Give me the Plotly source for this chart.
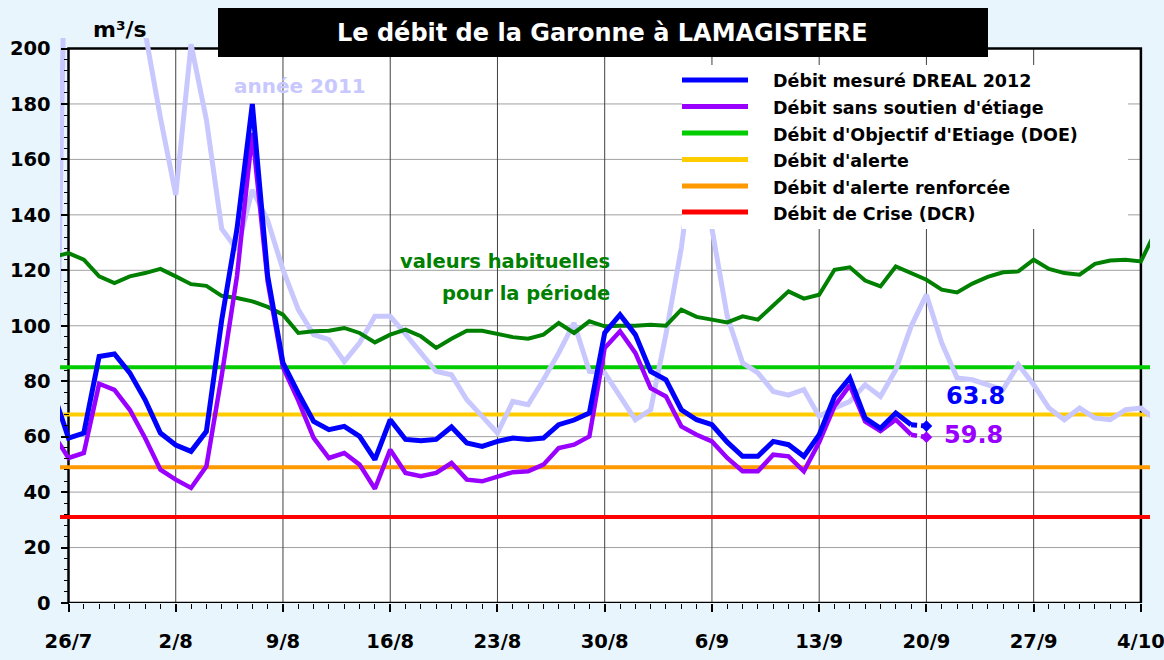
import pandas as pd
import plotly.graph_objects as go

# ---------------- data (daily, first point = 25/7) ----------------
START = "2012-07-25"
DAY0 = "2012-07-26"

# Débit mesuré DREAL 2012 (25/7 -> 20/9)
blue = [76, 59.5, 61.3, 88.9, 89.8, 83, 73.3, 61.3, 57, 54.7,
        61.9, 102, 135, 180, 118, 86.6, 75.7, 65.5, 62.5, 63.7,
        60.1, 51.7, 66.1, 59, 58.5, 59, 63.5, 57.7, 56.5, 58.3,
        59.5, 59, 59.5, 64.3, 66, 68.5, 97.4, 104, 96.8, 83.5,
        80.5, 69.7, 66.1, 64.3, 58, 52.9, 52.9, 58.3, 57.1, 52.9,
        60.7, 74.5, 81.2, 66.7, 63, 68.5, 64.3, 63.8]

# Débit sans soutien d'étiage (25/7 -> 20/9)
purple = [61, 52.3, 54.1, 79.1, 76.9, 69.7, 59.5, 48.1, 44.5, 41.5,
          49.3, 82, 118, 169.5, 116, 85, 73, 59.6, 52.3, 54.1,
          49.9, 41.2, 55.3, 46.9, 45.7, 46.9, 50.5, 44.5, 43.9, 45.7,
          47.2, 47.5, 49.9, 55.9, 57.1, 60.1, 92, 98, 90.2, 77.5,
          74.5, 63.7, 60.7, 58.3, 52.3, 47.5, 47.5, 53.5, 52.9, 47.5,
          58, 71, 78.5, 65.5, 62, 66.1, 60.7, 59.8]

# année 2011 (25/7 -> 5/10)
annee2011 = [0, 315, 290, 265, 245, 225, 206, 175, 147.2, 201.5,
             174.3, 135, 127.4, 149, 138, 120.2, 105.8, 96.8, 95, 87.1,
             93.8, 103.4, 103.4, 97, 90.2, 83.5, 82.3, 73.3, 67.3, 61.3,
             72.7, 71.5, 80.5, 90.2, 101, 83.5, 83, 74.5, 66.1, 69.7,
             97, 128, 170, 135, 103.4, 86.6, 83, 76.3, 75, 77,
             67.3, 70.3, 72.7, 78.7, 74.5, 84.1, 99.8, 111.2, 93.8, 81.2,
             80.5, 78.7, 77, 86, 78.7, 70.3, 66.1, 70.3, 66.7, 66.1,
             69.7, 70.3, 66]

# valeurs habituelles pour la période (25/7 -> 5/10)
habituelles = [124.8, 126.2, 123.8, 117.8, 115.4, 117.8, 119, 120.5, 117.8, 115,
               114.4, 110.8, 110, 108.8, 106.8, 104, 97.4, 98, 98.2, 99.2,
               97.4, 94, 96.8, 98.6, 96.2, 92, 95.3, 98.2, 98.2, 97,
               95.9, 95.3, 96.8, 101, 97.4, 101.6, 99.8, 100, 100, 100.4,
               100, 105.8, 103.2, 102.2, 101.2, 103.4, 102.2, 107.3, 112.4, 109.8,
               111.2, 120.2, 121.1, 116.3, 114.2, 121.4, 119, 116.6, 113, 112,
               115.2, 117.6, 119.3, 119.6, 123.8, 120.5, 119, 118.4, 122.3, 123.5,
               123.8, 123.2, 134.5]

DOE = 85
ALERTE = 68
ALERTE_RENF = 49
CRISE = 31

TICK_TEXT = ["26/7", "2/8", "9/8", "16/8", "23/8", "30/8", "6/9",
             "13/9", "20/9", "27/9", "4/10"]
Y_TICKS = list(range(0, 201, 20))

LEGEND_NAMES = ["Débit mesuré DREAL 2012", "Débit sans soutien d'étiage",
                "Débit d'Objectif d'Etiage (DOE)", "Débit d'alerte",
                "Débit d'alerte renforcée", "Débit de Crise (DCR)"]

# ---------------- styling ----------------
C_BLUE = "#0000FF"
C_PURPLE = "#9900FF"
C_LAV = "#C8C8FF"
C_HAB = "#008000"
C_DOE = "#00CC00"
C_ALERT = "#FFCC00"
C_RENF = "#FF9900"
C_CRISE = "#FF0000"
BG = "#E9F5FD"
FONT = "DejaVu Sans, sans-serif"
LEGEND_COLORS = [C_BLUE, C_PURPLE, C_DOE, C_ALERT, C_RENF, C_CRISE]

W, H = 1164, 660
L, R, T, B = 60, 1150, 38, 603          # plot (clip) area in px
FRAME_X0 = 68.5                          # px of 26/7
PX_PER_DAY = 15.32
PX_PER_UNIT = 2.7725

d0 = pd.Timestamp(DAY0)
dates = pd.date_range(START, periods=len(annee2011), freq="D")
xd = [d.strftime("%Y-%m-%d") for d in dates]
tick_dates = [(d0 + pd.Timedelta(days=7 * i)).strftime("%Y-%m-%d") for i in range(len(TICK_TEXT))]
x_left = d0 - pd.Timedelta(days=(FRAME_X0 - L) / PX_PER_DAY)
x_right = d0 + pd.Timedelta(days=(R - FRAME_X0) / PX_PER_DAY)
y_top = (B - T) / PX_PER_UNIT
frame_end = tick_dates[-1]


def px(x):
    return (x - L) / (R - L)


def py(y):
    return (B - y) / (B - T)


fig = go.Figure()

n_all = len(xd)
for val, col in [(DOE, C_DOE), (ALERTE, C_ALERT), (ALERTE_RENF, C_RENF), (CRISE, C_CRISE)]:
    fig.add_trace(go.Scatter(x=xd, y=[val] * n_all, mode="lines",
                             line=dict(color=col, width=4), hoverinfo="skip"))

fig.add_trace(go.Scatter(x=xd, y=annee2011, mode="lines",
                         line=dict(color=C_LAV, width=5)))
fig.add_trace(go.Scatter(x=xd, y=habituelles, mode="lines",
                         line=dict(color=C_HAB, width=4)))

for series, col, w in [(purple, C_PURPLE, 4.5), (blue, C_BLUE, 5)]:
    n = len(series)
    fig.add_trace(go.Scatter(x=xd[:n - 1], y=series[:n - 1], mode="lines",
                             line=dict(color=col, width=w)))
    fig.add_trace(go.Scatter(x=xd[n - 2:n], y=series[n - 2:n], mode="lines",
                             line=dict(color=col, width=w, dash="6px,4px")))
    fig.add_trace(go.Scatter(x=[xd[n - 1]], y=[series[-1]], mode="markers",
                             marker=dict(symbol="diamond", size=9, color=col)))

shapes = []
# white plotting area
shapes.append(dict(type="rect", xref="x", yref="y", x0=DAY0, x1=frame_end, y0=0, y1=200,
                   fillcolor="white", line=dict(width=0), layer="below"))
for yv in Y_TICKS[1:-1]:
    shapes.append(dict(type="line", xref="x", yref="y", x0=DAY0, x1=frame_end, y0=yv, y1=yv,
                       line=dict(color="#A0A0A0", width=1), layer="below"))
for td in tick_dates[1:-1]:
    shapes.append(dict(type="line", xref="x", yref="y", x0=td, x1=td, y0=0, y1=200,
                       line=dict(color="#404040", width=1), layer="below"))
shapes.append(dict(type="rect", xref="x", yref="y", x0=DAY0, x1=frame_end, y0=0, y1=200,
                   line=dict(color="black", width=2.5), layer="below"))
# title box
shapes.append(dict(type="rect", xref="paper", yref="paper", x0=px(218), x1=px(988),
                   y0=py(57), y1=py(8), fillcolor="black", line=dict(width=0), layer="above"))
# legend box
shapes.append(dict(type="rect", xref="paper", yref="paper", x0=px(682), x1=px(1128),
                   y0=py(229), y1=py(65), fillcolor="white", line=dict(width=0), layer="above"))

annotations = []
row_y = [80, 106.5, 133, 159.5, 186, 212]
for name, col, ry in zip(LEGEND_NAMES, LEGEND_COLORS, row_y):
    shapes.append(dict(type="line", xref="paper", yref="paper", x0=px(682), x1=px(748),
                       y0=py(ry), y1=py(ry), line=dict(color=col, width=5), layer="above"))
    annotations.append(dict(text=name, xref="paper", yref="paper", x=px(771), y=py(ry + 1.5),
                            xanchor="left", yanchor="middle", showarrow=False,
                            font=dict(family=FONT, size=17.5, color="black", weight="bold")))

annotations.append(dict(text="Le débit de la Garonne à LAMAGISTERE", xref="paper", yref="paper",
                        x=px(602), y=py(33), xanchor="center", yanchor="middle", showarrow=False,
                        font=dict(family=FONT, size=24, color="white", weight="bold")))
annotations.append(dict(text="m³/s", xref="paper", yref="paper", x=px(120), y=py(29.5),
                        xanchor="center", yanchor="middle", showarrow=False,
                        font=dict(family=FONT, size=22, color="black", weight="bold")))
annotations.append(dict(text="année 2011", xref="paper", yref="paper", x=px(300), y=py(86),
                        xanchor="center", yanchor="middle", showarrow=False,
                        font=dict(family=FONT, size=20, color=C_LAV, weight="bold")))
annotations.append(dict(text="valeurs habituelles", xref="paper", yref="paper", x=px(612), y=py(261),
                        xanchor="right", yanchor="middle", showarrow=False,
                        font=dict(family=FONT, size=19.5, color=C_HAB, weight="bold")))
annotations.append(dict(text="pour la période", xref="paper", yref="paper", x=px(612), y=py(293),
                        xanchor="right", yanchor="middle", showarrow=False,
                        font=dict(family=FONT, size=19.5, color=C_HAB, weight="bold")))
annotations.append(dict(text=f"{blue[-1]}", xref="x", yref="y", x=xd[len(blue) - 1], y=blue[-1],
                        xanchor="left", yanchor="middle", xshift=18, yshift=30, showarrow=False,
                        font=dict(family=FONT, size=24, color=C_BLUE, weight="bold")))
annotations.append(dict(text=f"{purple[-1]}", xref="x", yref="y", x=xd[len(purple) - 1], y=purple[-1],
                        xanchor="left", yanchor="middle", xshift=16, yshift=2, showarrow=False,
                        font=dict(family=FONT, size=24, color=C_PURPLE, weight="bold")))

fig.update_layout(
    width=W, height=H,
    margin=dict(l=L, r=W - R, t=T, b=H - B, autoexpand=False),
    paper_bgcolor=BG, plot_bgcolor=BG,
    showlegend=False,
    shapes=shapes, annotations=annotations,
    xaxis=dict(type="date", range=[x_left.isoformat(), x_right.isoformat()],
               tickvals=tick_dates, ticktext=TICK_TEXT,
               ticks="outside", ticklen=8, tickwidth=1.5, tickcolor="black",
               minor=dict(ticks="outside", ticklen=5, tickwidth=1.2, tickcolor="black",
                          dtick=86400000, tick0=DAY0, showgrid=False),
               showgrid=False, zeroline=False, showline=False,
               ticklabelstandoff=13, ticklabeloverflow="allow",
               tickfont=dict(family=FONT, size=19.5, color="black", weight="bold")),
    yaxis=dict(range=[0, y_top], tickvals=Y_TICKS, anchor="free",
               position=(FRAME_X0 - L) / (R - L),
               ticks="outside", ticklen=8, tickwidth=1.5, tickcolor="black",
               minor=dict(ticks="outside", ticklen=5, tickwidth=1.2, tickcolor="black",
                          dtick=4, tick0=0, showgrid=False),
               showgrid=False, zeroline=False, showline=False,
               ticklabelstandoff=6, ticklabeloverflow="allow",
               tickfont=dict(family=FONT, size=19.5, color="black", weight="bold")),
)

fig.write_html("out.html", config={"displayModeBar": False},
               post_script="document.body.style.margin='0px';")
